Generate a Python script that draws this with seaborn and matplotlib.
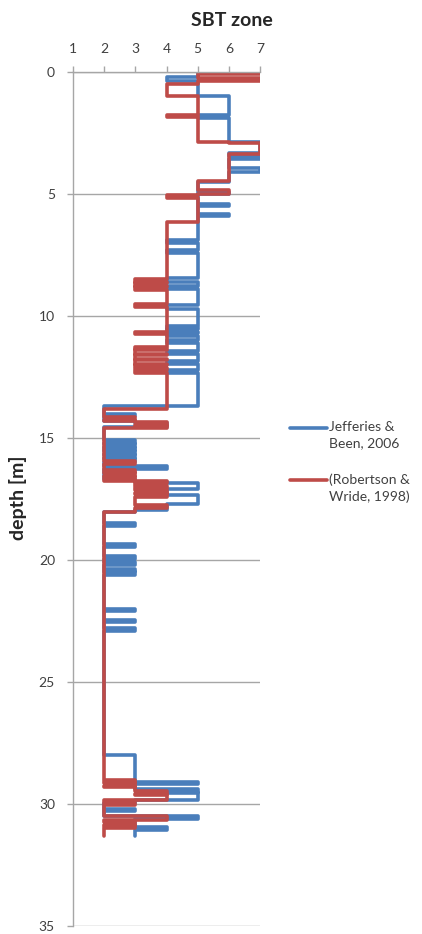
import matplotlib
matplotlib.use("Agg")
import matplotlib.pyplot as plt
import seaborn as sns
import pandas as pd

# ---- data: depth (m) where each SBT zone begins, and the zone value ----
jb_depth = [0.0, 0.2, 0.38, 1.0, 1.75, 1.88, 2.85, 3.3, 3.45, 3.55, 3.95, 4.1, 4.5,
            4.9, 5.0, 5.4, 5.5, 5.82, 5.92, 6.9, 7.0, 7.3, 7.4, 8.45, 8.6, 8.75, 8.9,
            9.55, 9.7, 10.4, 10.5, 10.55, 10.65, 10.7, 10.8, 11.0, 11.1, 11.45, 11.55,
            11.85, 11.95, 12.2, 12.35, 13.7, 14.0, 14.1, 14.3, 14.4, 14.55, 15.1, 15.2,
            15.25, 15.35, 15.4, 15.5, 15.55, 15.65, 15.7, 15.8, 15.85, 16.0, 16.15,
            16.25, 16.7, 16.8, 16.85, 17.1, 17.35, 17.7, 17.95, 18.05, 18.5, 18.6,
            19.35, 19.45, 19.85, 19.95, 20.1, 20.2, 20.35, 20.45, 20.5, 20.6, 22.0,
            22.1, 22.45, 22.55, 22.8, 22.9, 28.0, 29.1, 29.2, 29.4, 29.5, 29.55, 29.85,
            29.95, 30.2, 30.3, 30.5, 30.6, 30.95, 31.05, 31.3]
jb_zone = [5, 4, 5, 6, 5, 6, 7, 6, 7, 6, 7, 6, 5,
           6, 5, 6, 5, 6, 5, 4, 5, 4, 5, 4, 5, 4, 5,
           4, 5, 4, 5, 4, 5, 4, 5, 4, 5, 4, 5,
           4, 5, 4, 5, 2, 3, 2, 3, 4, 2, 3, 2,
           3, 2, 3, 2, 3, 2, 3, 2, 3, 2, 4,
           2, 3, 4, 5, 4, 5, 4, 3, 2, 3, 2,
           3, 2, 3, 2, 3, 2, 3, 2, 3, 2, 3,
           2, 3, 2, 3, 2, 3, 5, 3, 5, 4, 5, 3,
           2, 3, 2, 5, 3, 4, 3, 3]

rw_depth = [0.0, 0.08, 0.25, 0.35, 0.5, 0.97, 1.75, 1.85, 2.85, 2.92, 3.35, 4.45, 4.85,
            5.0, 5.05, 5.15, 6.15, 8.5, 8.6, 8.65, 8.78, 8.83, 8.95, 9.5, 9.65, 10.65,
            10.75, 11.25, 11.35, 11.4, 11.55, 11.6, 11.75, 11.8, 11.95, 12.0, 12.15,
            12.2, 12.35, 13.8, 14.15, 14.25, 14.3, 14.35, 14.45, 14.5, 14.6, 15.95,
            16.05, 16.3, 16.4, 16.45, 16.55, 16.6, 16.7, 16.75, 16.85, 16.95, 17.05,
            17.15, 17.25, 17.3, 17.4, 17.75, 17.85, 18.05, 29.0, 29.1, 29.15, 29.25,
            29.3, 29.45, 29.6, 29.65, 29.85, 29.95, 30.05, 30.5, 30.65, 30.75, 30.85,
            30.9, 31.0, 31.3]
rw_zone = [7, 5, 7, 5, 4, 5, 4, 5, 6, 7, 6, 5, 6,
           5, 4, 5, 4, 3, 4, 3, 4, 3, 4, 3, 4, 3,
           4, 3, 4, 3, 4, 3, 4, 3, 4, 3, 4,
           3, 4, 2, 3, 2, 3, 4, 3, 4, 2, 3,
           2, 3, 2, 3, 2, 3, 2, 4, 3, 4, 3,
           4, 3, 4, 3, 4, 3, 2, 3, 2, 3, 2,
           3, 4, 3, 4, 2, 3, 2, 4, 2, 3, 2,
           3, 2, 2]

series_names = ["Jefferies &\nBeen, 2006", "(Robertson &\nWride, 1998)"]
series_colors = ["#4A7EBB", "#BE4B48"]

x_ticks = [1, 2, 3, 4, 5, 6, 7]
y_ticks = [0, 5, 10, 15, 20, 25, 30, 35]

df = pd.concat([
    pd.DataFrame({"zone": jb_zone, "depth": jb_depth, "series": series_names[0]}),
    pd.DataFrame({"zone": rw_zone, "depth": rw_depth, "series": series_names[1]}),
], ignore_index=True)

sns.set_style("white")
plt.rcParams["font.family"] = ["Lato", "DejaVu Sans"]

fig = plt.figure(figsize=(4.22, 9.34), dpi=100)
ax = fig.add_axes([73 / 422, 1 - 926 / 934, (260 - 73) / 422, (926 - 72) / 934])

LW = 2.6
sns.lineplot(data=df, x="zone", y="depth", hue="series", hue_order=series_names,
             palette=series_colors, orient="y", sort=False, estimator=None,
             drawstyle="steps-pre", linewidth=LW, legend=False, ax=ax)

ax.set_xlim(1, 7)
ax.set_ylim(35, 0)
ax.set_xticks(x_ticks)
ax.set_yticks(y_ticks)
ax.xaxis.tick_top()
ax.set_xlabel("")
ax.set_ylabel("")

grid_c = "#A6A6A6"
ax.yaxis.grid(True, color=grid_c, linewidth=1.0)
ax.xaxis.grid(False)
ax.set_axisbelow(True)
for s in ["right", "bottom"]:
    ax.spines[s].set_visible(False)
for s in ["left", "top"]:
    ax.spines[s].set_color(grid_c)
    ax.spines[s].set_linewidth(1.0)
ax.tick_params(axis="y", direction="out", length=4, width=1, color=grid_c,
               pad=9, labelsize=10, labelcolor="#404040", left=True)
ax.tick_params(axis="x", direction="out", length=4, width=1, color=grid_c,
               pad=8, labelsize=10, labelcolor="#404040", top=True, bottom=False)

fig.text(232 / 422, 1 - 20 / 934, "SBT zone", ha="center", va="center",
         fontsize=14, fontweight="bold", color="#262626")
fig.text(18 / 422, 1 - 498 / 934, "depth [m]", ha="center", va="center",
         rotation=90, fontsize=14, fontweight="bold", color="#262626")

# legend: handle aligned with the first text line (spreadsheet style)
leg_y = [428, 480]
for name, col, py in zip(series_names, series_colors, leg_y):
    yf = 1 - py / 934
    fig.add_artist(plt.Line2D([290 / 422, 327 / 422], [yf, yf], color=col,
                              linewidth=LW, transform=fig.transFigure))
    fig.text(329 / 422, yf + 7 / 934, name, ha="left", va="top", fontsize=10,
             color="#404040", linespacing=1.45)

fig.savefig("out.png", dpi=100)
